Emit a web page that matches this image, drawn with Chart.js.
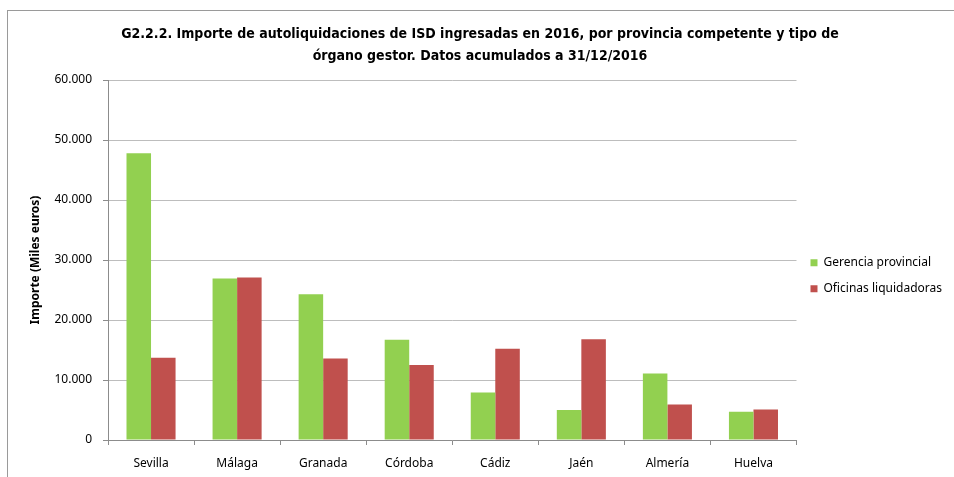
<!DOCTYPE html>
<html>
<head>
<meta charset="utf-8">
<script src="https://cdn.jsdelivr.net/npm/chart.js@4"></script>
<style>
    html, body { margin: 0; padding: 0; background: #fff; overflow: hidden; }
    #wrap { position: relative; width: 954px; height: 477px; overflow: hidden; }
    .frame-top { position: absolute; left: 7px; top: 10px; width: 947px; height: 1px; background: #9a9a9a; }
    .frame-left { position: absolute; left: 7px; top: 10px; width: 1px; height: 467px; background: #9a9a9a; }
    canvas { position: absolute; left: 0; top: 0; }
</style>
</head>
<body>
<div id="wrap">
    <div class="frame-top"></div>
    <div class="frame-left"></div>
    <canvas id="chart" width="954" height="477"></canvas>
</div>
<script>
// Chart data
const provincias = ['Sevilla', 'Málaga', 'Granada', 'Córdoba', 'Cádiz', 'Jaén', 'Almería', 'Huelva'];
const gerenciaProvincial = [47800, 26900, 24300, 16700, 7900, 5000, 11100, 4700];
const oficinasLiquidadoras = [13700, 27100, 13600, 12500, 15200, 16800, 5900, 5100];
const yTickLabels = ['0', '10.000', '20.000', '30.000', '40.000', '50.000', '60.000'];

const baseFont = "'Noto Sans', 'Open Sans', sans-serif";
const titleFont = "'DejaVu Sans Condensed', 'Liberation Sans Narrow', 'Noto Sans', sans-serif";

const ctx = document.getElementById('chart').getContext('2d');
new Chart(ctx, {
    type: 'bar',
    data: {
        labels: provincias,
        datasets: [{
            label: 'Gerencia provincial',
            data: gerenciaProvincial,
            backgroundColor: '#92D050',
            borderWidth: 0,
            categoryPercentage: 0.57,
            barPercentage: 1.0
        }, {
            label: 'Oficinas liquidadoras',
            data: oficinasLiquidadoras,
            backgroundColor: '#C0504D',
            borderWidth: 0,
            categoryPercentage: 0.57,
            barPercentage: 1.0
        }]
    },
    options: {
        responsive: false,
        animation: false,
        layout: {
            padding: { left: 8, right: 2, top: 0, bottom: 0 }
        },
        plugins: {
            title: {
                display: true,
                text: ['G2.2.2. Importe de autoliquidaciones de ISD ingresadas en 2016, por provincia competente y tipo de',
                       'órgano gestor. Datos acumulados a 31/12/2016'],
                color: '#000',
                font: { family: titleFont, size: 14, weight: 'bold', lineHeight: '22px' },
                padding: { top: 23, bottom: 13 }
            },
            legend: {
                position: 'right',
                align: 'center',
                title: { display: true, text: '', padding: 30 },
                labels: {
                    boxWidth: 7,
                    boxHeight: 7,
                    padding: 14,
                    color: '#000',
                    font: { family: baseFont, size: 12 }
                }
            },
            tooltip: { enabled: false }
        },
        scales: {
            x: {
                grid: {
                    drawOnChartArea: false,
                    offset: true,
                    tickLength: 5,
                    color: '#8c8c8c'
                },
                border: { color: '#8c8c8c', width: 1 },
                ticks: {
                    color: '#000',
                    padding: 11,
                    font: { family: baseFont, size: 12 }
                },
                afterFit: function (scale) {
                    scale.height = 37;
                }
            },
            y: {
                min: 0,
                max: 60000,
                ticks: {
                    stepSize: 10000,
                    color: '#000',
                    padding: 11,
                    font: { family: baseFont, size: 12 },
                    callback: function (value, index) {
                        return yTickLabels[index];
                    }
                },
                grid: {
                    color: '#bdbdbd',
                    tickColor: '#8c8c8c',
                    tickLength: 5,
                    lineWidth: 1
                },
                border: { color: '#8c8c8c', width: 1 },
                title: {
                    display: true,
                    text: 'Importe (Miles euros)',
                    color: '#000',
                    font: { family: baseFont, size: 12, weight: 'bold' },
                    padding: { top: 20, bottom: 0 }
                },
                afterFit: function (scale) {
                    scale.width = 100;
                }
            }
        }
    }
});
</script>
</body>
</html>
